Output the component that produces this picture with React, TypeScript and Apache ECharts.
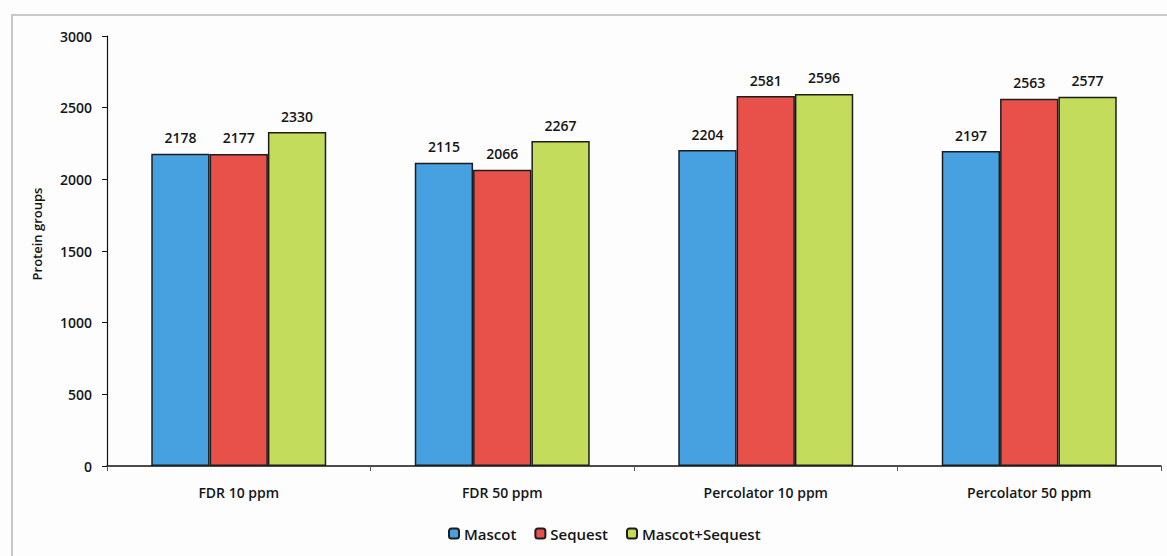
import React, { useEffect, useRef } from "react";
import * as echarts from "echarts";

const categories = ["FDR 10 ppm", "FDR 50 ppm", "Percolator 10 ppm", "Percolator 50 ppm"];
const mascot = [2178, 2115, 2204, 2197];
const sequest = [2177, 2066, 2581, 2563];
const combined = [2330, 2267, 2596, 2577];
const seriesNames = ["Mascot", "Sequest", "Mascot+Sequest"];
const seriesColors = ["#47a1e0", "#e8514a", "#c4dc5b"];
const yAxisTitle = "Protein groups";

const FONT = "'Open Sans', Lato, sans-serif";
const TEXT = "#151515";

export default function App() {
  const ref = useRef<HTMLDivElement>(null);

  useEffect(() => {
    if (!ref.current) return;
    const chart = echarts.init(ref.current, undefined, { renderer: "svg" });
    const values = [mascot, sequest, combined];
    chart.setOption({
      animation: false,
      backgroundColor: "#fdfdfd",
      textStyle: { fontFamily: FONT, color: TEXT },
      graphic: [
        {
          type: "polyline",
          shape: { points: [[12, 556], [12, 15], [1167, 15]] },
          style: { stroke: "#c8c8c8", lineWidth: 2, fill: "none" },
          silent: true,
        },
        {
          type: "text",
          x: 37,
          y: 234,
          rotation: Math.PI / 2,
          style: {
            text: yAxisTitle,
            fontFamily: FONT,
            fontSize: 13,
            fontWeight: 600,
            fill: TEXT,
            align: "center",
            verticalAlign: "middle",
          },
          silent: true,
        },
      ],
      legend: {
        bottom: 10,
        left: 443,
        itemWidth: 10,
        itemHeight: 10,
        itemGap: 18,
        icon: "roundRect",
        textStyle: { fontFamily: FONT, fontSize: 15, fontWeight: 600, color: TEXT },
        data: seriesNames,
      },
      grid: { left: 107, right: 6, top: 36, bottom: 90, containLabel: false },
      xAxis: {
        type: "category",
        data: categories,
        axisLine: { lineStyle: { color: "#111", width: 1.5 } },
        axisTick: { show: true, length: 5, lineStyle: { color: "#555" } },
        axisLabel: { fontFamily: FONT, fontSize: 14, fontWeight: 600, color: TEXT, margin: 19 },
      },
      yAxis: {
        type: "value",
        min: 0,
        max: 3000,
        interval: 500,
        axisLine: { show: true, lineStyle: { color: "#111", width: 1.2 } },
        axisTick: { show: true, length: 5, lineStyle: { color: "#111" } },
        splitLine: { show: false },
        axisLabel: {
          fontFamily: FONT,
          fontSize: 14,
          fontWeight: 600,
          color: TEXT,
          margin: 15,
          formatter: (v: number) => String(v),
        },
      },
      series: seriesNames.map((name, i) => ({
        name,
        type: "bar",
        data: values[i],
        barGap: "0%",
        barCategoryGap: "33.6%",
        itemStyle: { color: seriesColors[i], borderColor: "#1d1d1d", borderWidth: 1.5 },
        label: {
          show: true,
          position: "top",
          distance: 9,
          fontFamily: FONT,
          fontSize: 14,
          fontWeight: 600,
          color: TEXT,
        },
      })),
    });
    return () => chart.dispose();
  }, []);

  return <div ref={ref} style={{ width: 1167, height: 556, position: "absolute", left: 0, top: 0 }} />;
}
